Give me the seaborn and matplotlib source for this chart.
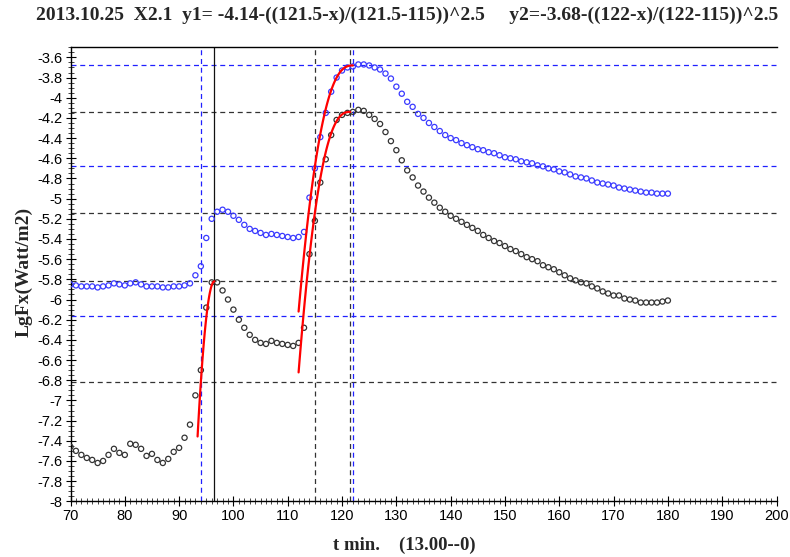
import numpy as np
import pandas as pd
import matplotlib
matplotlib.use("Agg")
import matplotlib.pyplot as plt
import seaborn as sns
from matplotlib.ticker import MultipleLocator, FuncFormatter

# ---------------- data ----------------
t_min = list(range(70, 181))

lgfx_black = [
    -7.46, -7.50, -7.54, -7.57, -7.59, -7.62, -7.60, -7.54, -7.48, -7.52,   # 70-79
    -7.54, -7.43, -7.44, -7.48, -7.55, -7.53, -7.59, -7.62, -7.58, -7.51,   # 80-89
    -7.47, -7.37, -7.24, -6.95, -6.70, -6.08, -5.83, -5.83, -5.91, -6.00,   # 90-99
    -6.10, -6.20, -6.28, -6.35, -6.40, -6.43, -6.44, -6.41, -6.43, -6.44,   # 100-109
    -6.45, -6.46, -6.43, -6.28, -5.55, -5.22, -4.84, -4.61, -4.37, -4.22,   # 110-119
    -4.17, -4.15, -4.14, -4.12, -4.13, -4.17, -4.21, -4.26, -4.34, -4.43,   # 120-129
    -4.52, -4.62, -4.72, -4.79, -4.87, -4.93, -4.99, -5.04, -5.09, -5.13,   # 130-139
    -5.17, -5.20, -5.23, -5.26, -5.29, -5.32, -5.36, -5.39, -5.42, -5.44,   # 140-149
    -5.47, -5.50, -5.52, -5.55, -5.58, -5.60, -5.62, -5.66, -5.68, -5.70,   # 150-159
    -5.73, -5.76, -5.79, -5.81, -5.83, -5.84, -5.87, -5.89, -5.92, -5.94,   # 160-169
    -5.96, -5.96, -5.99, -6.00, -6.01, -6.03, -6.03, -6.03, -6.03, -6.02,   # 170-179
    -6.01,                                                                   # 180
]

lgfx_blue = [
    -5.85, -5.86, -5.87, -5.87, -5.87, -5.88, -5.87, -5.86, -5.84, -5.85,   # 70-79
    -5.86, -5.84, -5.83, -5.85, -5.87, -5.87, -5.87, -5.88, -5.88, -5.87,   # 80-89
    -5.87, -5.86, -5.84, -5.76, -5.67, -5.39, -5.20, -5.13, -5.11, -5.13,   # 90-99
    -5.17, -5.21, -5.26, -5.30, -5.32, -5.34, -5.36, -5.35, -5.36, -5.37,   # 100-109
    -5.38, -5.39, -5.38, -5.33, -4.99, -4.70, -4.39, -4.15, -3.94, -3.80,   # 110-119
    -3.73, -3.70, -3.69, -3.67, -3.67, -3.68, -3.70, -3.72, -3.76, -3.81,   # 120-129
    -3.89, -3.96, -4.04, -4.09, -4.16, -4.20, -4.25, -4.29, -4.33, -4.37,   # 130-139
    -4.40, -4.42, -4.45, -4.47, -4.49, -4.51, -4.52, -4.54, -4.55, -4.57,   # 140-149
    -4.59, -4.60, -4.61, -4.63, -4.64, -4.65, -4.67, -4.68, -4.70, -4.71,   # 150-159
    -4.73, -4.74, -4.76, -4.78, -4.79, -4.80, -4.82, -4.84, -4.85, -4.86,   # 160-169
    -4.87, -4.89, -4.90, -4.91, -4.92, -4.93, -4.94, -4.94, -4.95, -4.95,   # 170-179
    -4.95,                                                                   # 180
]

# fit parameters (from the title formulas)
fit1_peak, fit1_tmax, fit1_t0, fit1_start = -4.14, 121.5, 115.0, 112.0
fit2_peak, fit2_tmax, fit2_t0, fit2_start = -3.68, 122.0, 115.0, 112.0
fit0_peak, fit0_tmax, fit0_t0, fit0_start, fit0_pow = -5.82, 96.5, 94.0, 93.4, 2.0

hlines_black = [-4.14, -5.14, -5.82, -6.82]
hlines_blue = [-3.68, -4.68, -6.16]
vlines_black_dashed = [115.0, 121.5]
vlines_blue_dashed = [122.0]
vline_blue_first = 94.0
vline_black_first = 96.4

title = ("2013.10.25  X2.1  y1= -4.14-((121.5-x)/(121.5-115))^2.5     "
         "y2=-3.68-((122-x)/(122-115))^2.5")

# ---------------- figure ----------------
sns.set_style("white")
plt.rcParams["font.family"] = ["Liberation Sans", "DejaVu Sans"]

fig = plt.figure(figsize=(7.9, 5.57), dpi=100)
ax = fig.add_axes([70.5 / 790, 1 - 501.3 / 557, 706 / 790, (501.3 - 47.3) / 557])

dash = (0, (4, 3))
for y in hlines_black:
    ax.axhline(y, color="#333333", lw=0.9, ls=dash, zorder=1)
for y in hlines_blue:
    ax.axhline(y, color="#2020ff", lw=0.9, ls=dash, zorder=1)
for x in vlines_black_dashed:
    ax.axvline(x, color="#333333", lw=0.9, ls=dash, zorder=1)
for x in vlines_blue_dashed:
    ax.axvline(x, color="#2020ff", lw=0.9, ls=dash, zorder=1)
ax.axvline(vline_blue_first, color="#2020ff", lw=0.9, ls=dash, zorder=1)
ax.axvline(vline_black_first, color="#111111", lw=0.9, zorder=1)

df = pd.DataFrame({"t": t_min, "black": lgfx_black, "blue": lgfx_blue})
sns.scatterplot(data=df, x="t", y="blue", ax=ax, marker="o", s=14,
                facecolor="none", edgecolor="#3a3aff", linewidth=0.9, zorder=3)
sns.scatterplot(data=df, x="t", y="black", ax=ax, marker="o", s=14,
                facecolor="none", edgecolor="#333333", linewidth=0.9, zorder=3)

# fit curves
x1 = np.linspace(fit1_start, fit1_tmax, 60)
y1 = fit1_peak - ((fit1_tmax - x1) / (fit1_tmax - fit1_t0)) ** 2.5
x2 = np.linspace(fit2_start, fit2_tmax, 60)
y2 = fit2_peak - ((fit2_tmax - x2) / (fit2_tmax - fit2_t0)) ** 2.5
x0 = np.linspace(fit0_start, fit0_tmax, 40)
y0 = fit0_peak - ((fit0_tmax - x0) / (fit0_tmax - fit0_t0)) ** fit0_pow
for xx, yy in [(x0, y0), (x1, y1), (x2, y2)]:
    sns.lineplot(x=xx, y=yy, ax=ax, color="#ff0000", lw=1.6, sort=False,
                 estimator=None, zorder=4)

ax.set_xlim(70, 200)
ax.set_ylim(-8, -3.5)
ax.xaxis.set_major_locator(MultipleLocator(10))
ax.xaxis.set_minor_locator(MultipleLocator(1))
ax.yaxis.set_major_locator(MultipleLocator(0.2))
ax.yaxis.set_minor_locator(MultipleLocator(0.05))
ax.yaxis.set_major_formatter(FuncFormatter(lambda v, p: "%g" % round(v, 1)))
ax.tick_params(axis="both", which="major", direction="inout", length=7,
               width=0.8, labelsize=10.5, colors="black", pad=2)
ax.tick_params(axis="both", which="minor", direction="inout", length=4,
               width=0.6)
ax.tick_params(axis="x", which="both", bottom=True)
ax.tick_params(axis="y", which="both", left=True)
for sp in ["left", "bottom", "top"]:
    ax.spines[sp].set_visible(True)
    ax.spines[sp].set_color("black")
    ax.spines[sp].set_linewidth(1.0)
ax.spines["right"].set_visible(False)

ax.set_xlabel("")
ax.set_ylabel("")
serif = ["Liberation Serif", "DejaVu Serif"]
fig.text(407 / 790, 1 - 15 / 557, title, ha="center", va="center",
         family=serif, fontweight="bold", fontsize=14)
fig.text(404 / 790, 1 - 545 / 557, "t min.    (13.00--0)", ha="center",
         va="center", family=serif, fontweight="bold", fontsize=13.5)
fig.text(24 / 790, 1 - 272 / 557, "LgFx(Watt/m2)", ha="center", va="center",
         rotation=90, family=serif, fontweight="bold", fontsize=14)

fig.savefig("out.png", dpi=100)
